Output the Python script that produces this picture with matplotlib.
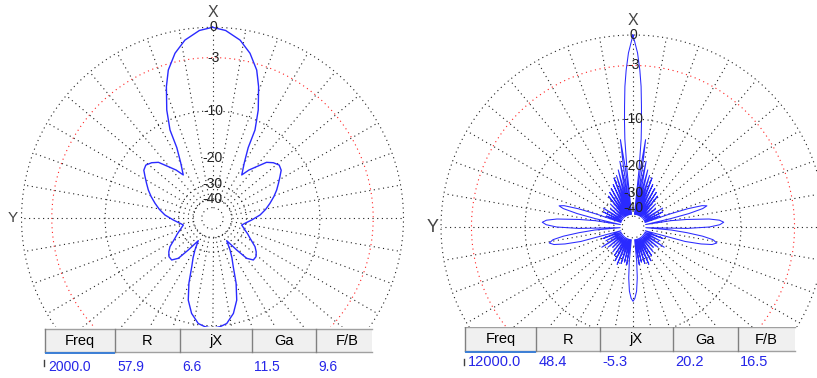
import numpy as np
import matplotlib
matplotlib.use('Agg')
import matplotlib.pyplot as plt
from matplotlib.patches import Rectangle

plt.rcParams['font.family'] = ['Liberation Sans', 'DejaVu Sans']

# ---- data (half patterns, symmetric about the X axis) ----
left_ang = [0, 4, 8.8, 12.8, 16.6, 19.3, 22.9, 25.7, 26.8, 29.7, 34,
            37, 40.6, 44, 47.6, 51.4, 55, 58.4, 62, 66.2, 70.5, 75.4, 80.5, 86, 92.5, 97, 102.9,
            109.8, 114, 118, 123.7, 127.5, 131.4, 135.6, 139.5, 142.6, 147.6,
            151, 153.8, 156.7, 160, 163.5, 167.6, 172.3, 176, 180]
left_db = [0, -0.25, -1.0, -2.1, -3.66, -5.46, -8.43, -11.6, -15.3, -18.9, -22.5,
           -20.0, -17.9, -15.6, -14.6, -14.0, -14.3, -15.3, -16.3, -17.4, -18.7, -20.3, -22.0, -24.1, -27.5, -29.8, -32.2,
           -29.7, -27.8, -26.1, -22.9, -21.6, -20.7, -20.6, -22.4, -27.2, -34.3,
           -28.9, -25.5, -22.5, -17.7, -14.0, -11.7, -10.2, -9.8, -9.6]

right_ang = [0, 1.5, 2.5, 3.3, 4.0, 4.6, 5.3, 6.0, 6.6,
             7.4, 8.2, 9.0, 9.75,
             10.5, 11.3, 12.1, 12.9,
             13.7, 14.5, 15.3, 16.15,
             17.0, 17.8, 18.6, 19.5,
             20.4, 21.2, 22.0, 23.1,
             24.2, 25.0, 25.8, 27.25,
             28.7, 29.5, 30.3, 31.75,
             33.2, 34.0, 34.8, 36.25,
             37.7, 38.5, 39.3, 41.5,
             43.7, 44.5, 45.3, 47.75,
             50.2, 51.0, 51.8, 54.25,
             56.7, 57.5, 58.3, 60.25,
             62.2, 63.0, 63.8, 65.25,
             66.7, 67.5, 68.3, 69.5,
             70.5, 71.5, 72.8, 74.0, 75.2, 76.5, 77.5, 79.0,
             80.5, 82.0, 84.0, 85.5, 87.0, 88.5, 90.0, 91.5, 93.0,
             94.5, 96.0, 97.5, 99.0, 100.8, 102.5, 104.0, 105.5, 107.0,
             110.2, 111.0, 111.8, 114.0,
             116.2, 117.0, 117.8, 120.0,
             122.2, 123.0, 123.8, 126.0,
             128.2, 129.0, 129.8, 132.0,
             134.2, 135.0, 135.8, 138.0,
             140.2, 141.0, 141.8, 144.0,
             146.2, 147.0, 147.8, 149.5,
             151.2, 152.0, 152.8, 154.5,
             156.2, 157.0, 157.8, 159.5,
             161.2, 162.0, 162.8, 164.3,
             165.8, 166.5, 167.2, 168.7,
             169.9, 170.5, 171.1, 172.5,
             173.8, 175.2, 176.8, 178.5, 180]
right_db = [0, -1.7, -3.5, -5.4, -8.0, -10.3, -13.5, -21, -47,
            -20, -13.5, -20, -47,
            -25, -18.3, -25, -47,
            -27, -20.5, -27, -47,
            -28, -22, -28, -47,
            -29, -22.5, -29, -47,
            -31, -24.5, -31, -47,
            -32, -25.5, -32, -47,
            -33, -26.5, -33, -47,
            -34, -27.5, -34, -47,
            -37, -31, -37, -47,
            -39, -33, -39, -47,
            -36, -29.5, -36, -47,
            -37, -30.5, -37, -47,
            -39, -33, -39, -47,
            -28, -21, -17, -15.9, -17, -21, -28, -47,
            -28, -22, -16, -13.8, -13.0, -13.8, -16, -22, -47,
            -28, -22, -17.5, -15, -14.1, -15, -17.5, -22, -47,
            -37, -31, -37, -47,
            -38, -32, -38, -47,
            -35, -28.5, -35, -47,
            -37, -31, -37, -47,
            -39, -33, -39, -47,
            -37, -31, -37, -47,
            -36, -30, -36, -47,
            -34, -28, -34, -47,
            -33, -27, -33, -47,
            -34, -28, -34, -47,
            -35, -29, -35, -47,
            -34, -28, -34, -47,
            -30, -23, -19, -17.2, -16.5]

ring_db = [0, -3, -10, -30, -40, -50]
label_db = [0, -3, -10, -20, -30, -40]
headers = ['Freq', 'R', 'jX', 'Ga', 'F/B']
left_vals = ['2000.0', '57.9', '6.6', '11.5', '9.6']
right_vals = ['12000.0', '48.4', '-5.3', '20.2', '16.5']

W, H = 817, 378
fig = plt.figure(figsize=(W / 100, H / 100), dpi=100)
fig.patch.set_facecolor('white')


def rad(db):
    return 10 ** (np.asarray(db, dtype=float) / 40.0)


def full(ang, db):
    a = np.array(ang, dtype=float)
    d = np.array(db, dtype=float)
    a_all = np.concatenate([a, 360 - a[::-1][1:]])
    d_all = np.concatenate([d, d[::-1][1:]])
    return np.radians(a_all), rad(d_all)


def polar(cx, cy, R, ang, db, lw, ysize):
    ax = fig.add_axes([(cx - R) / W, (H - cy - R) / H, 2 * R / W, 2 * R / H],
                      projection='polar')
    ax.set_theta_zero_location('N')
    ax.set_theta_direction(1)
    ax.set_ylim(0, 1)
    ax.set_xticks([])
    ax.set_yticks([])
    ax.grid(False)
    ax.spines['polar'].set_visible(False)
    ax.patch.set_visible(False)
    t = np.linspace(0, 2 * np.pi, 721)
    for d in ring_db:
        c = '#ff2020' if d == -3 else '#202020'
        ax.plot(t, np.full_like(t, rad(d)), color=c, lw=0.8,
                ls=(0, (1, 3.2)), clip_on=False)
    for a in range(0, 360, 10):
        ax.plot([np.radians(a)] * 2, [rad(-40), 1], color='#202020', lw=0.8,
                ls=(0, (1, 3.2)), clip_on=False)
    th, r = full(ang, db)
    ax.plot(th, r, color='#2a2aff', lw=lw, clip_on=False, zorder=5)
    for d in label_db:
        ax.text(-0.004, rad(d), str(d), ha='center', va='center', fontsize=10,
                color='#222222', zorder=6)
    ax.text(0, 1.078, 'X', ha='center', va='center', fontsize=11.5, color='#444444')
    ax.text(np.pi / 2, 1.045, 'Y', ha='center', va='center', fontsize=ysize,
            color='#444444')
    return ax


polar(212.5, 218.3, 191, left_ang, left_db, 1.0, 11)
polar(633, 227, 192, right_ang, right_db, 0.75, 13)

# bottom strip with the two result tables
tb = fig.add_axes([0, 0, 1, 51 / H])
tb.set_xlim(0, W)
tb.set_ylim(H, H - 51)
tb.axis('off')
tb.set_zorder(10)
tb.add_patch(Rectangle((0, H - 51), W, 51, facecolor='white', edgecolor='none'))


def table(edges, xcut, y0, y1, vy, fs_h, fs_v, vals):
    tb.add_patch(Rectangle((edges[0], y0), xcut - edges[0], y1 - y0,
                           facecolor='#f0f0f0', edgecolor='none'))
    tb.plot([edges[0], xcut], [y0, y0], color='#a0a0a0', lw=1)
    tb.plot([edges[0], xcut], [y1, y1], color='#a0a0a0', lw=1)
    for x in edges[:-1]:
        tb.plot([x, x], [y0, y1], color='#808080', lw=1)
    tb.plot([edges[0] + 1, edges[1] - 1], [y1 + 1, y1 + 1], color='#3c7fd6', lw=1.4)
    tb.plot([edges[0] - 1, edges[0] - 1], [y1 + 8, y1 + 14], color='#404040', lw=1)
    for i in range(5):
        xc = (edges[i] + edges[i + 1]) / 2
        tb.text(xc, (y0 + y1) / 2 + 0.5, headers[i], ha='center', va='center',
                fontsize=fs_h, color='black')
        tb.text(edges[i] + 2.5, vy, vals[i], ha='left', va='center',
                fontsize=fs_v, color='#2525e8')


table([45.5, 115, 180, 252, 316, 378], 372, 329, 352, 367, 10.5, 10, left_vals)
table([465, 535.7, 600, 672.7, 737.7, 795], 795, 327, 351, 361.5, 10.5, 10.5, right_vals)

fig.savefig('out.png', dpi=100)
